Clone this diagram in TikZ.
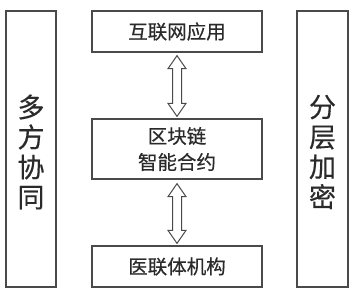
\documentclass[tikz,border=0pt]{standalone}
\usepackage{fontspec}
\newfontfamily\cjk[FakeBold=0.4]{Noto Sans CJK SC}
\usetikzlibrary{calc}
\definecolor{linec}{HTML}{4A4A4A}
\definecolor{textc}{HTML}{2A2A2A}
\tikzset{
  box/.style={draw=linec, line width=1.3pt, fill=white, inner sep=0pt, text=textc, font=\cjk\fontsize{19.5}{26}\selectfont, align=center},
  sidebox/.style={box, minimum height=276pt, font=\cjk\fontsize{27}{30}\selectfont},
  arr/.style={draw=linec, line width=1pt, fill=white, line join=miter}
}
\newcommand\dblarrow[2]{%
  \draw[arr] (#1) -- ++(9pt,-13pt) -- ++(-4.5pt,0pt) -- ($(#2)+(4.5pt,13pt)$) -- ++(4.5pt,0pt) -- (#2)
    -- ++(-9pt,13pt) -- ++(4.5pt,0pt) -- ($(#1)+(-4.5pt,-13pt)$) -- ++(-4.5pt,0pt) -- cycle;}
\begin{document}
\begin{tikzpicture}[x=1pt,y=1pt]
\useasboundingbox[fill=white] (0,0) rectangle (351,-290);
\node[box, minimum width=170pt, minimum height=41pt] (app) at (177,-31.5) {互联网应用};
\node[box, minimum width=170pt, minimum height=60pt] (chain) at (177,-149) {区块链\\智能合约};
\node[box, minimum width=170pt, minimum height=41pt] (org) at (177,-266.5) {医联体机构};
\node[box, minimum width=50pt, minimum height=276pt] (left) at (31,-149) {};
\node[box, minimum width=51pt, minimum height=276pt] (right) at (322.5,-149) {};
\node[text=textc, font=\cjk\fontsize{27}{30}\selectfont, align=center, inner sep=0pt] (lefttext) at ($(left.center)+(0,-3pt)$) {多\\方\\协\\同};
\node[text=textc, font=\cjk\fontsize{27}{30}\selectfont, align=center, inner sep=0pt] (righttext) at ($(right.center)+(0,-3pt)$) {分\\层\\加\\密};
\coordinate (a1) at ($(app.south)+(0,-3pt)$);
\coordinate (a2) at ($(chain.north)+(0,2pt)$);
\coordinate (b1) at ($(chain.south)+(0,-4pt)$);
\coordinate (b2) at ($(org.north)+(0,2pt)$);
\dblarrow{a1}{a2}
\dblarrow{b1}{b2}
\end{tikzpicture}
\end{document}
